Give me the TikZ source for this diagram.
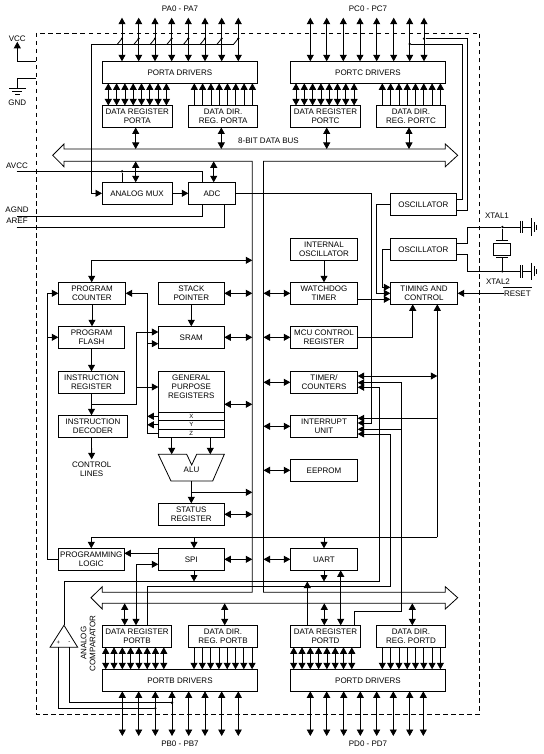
\documentclass[tikz,border=0pt]{standalone}
\usepackage{fontspec}
\setmainfont{Liberation Sans}
\usepackage{tikz}
\usetikzlibrary{arrows.meta}
\newcommand{\lblfont}{\fontsize{8}{9}\selectfont}
\tikzset{
    blk/.style={draw, line width=0.8pt, anchor=north west, minimum width=66pt, minimum height=22pt, inner sep=0pt, outer sep=0pt, align=center, font=\lblfont},
    lbl/.style={inner sep=0pt, outer sep=0pt, align=center, font=\lblfont},
    wire/.style={line width=0.8pt},
    uni/.style={wire, -{Triangle[length=6.5pt,width=7pt]}},
    bi/.style={wire, {Triangle[length=6.5pt,width=7pt]}-{Triangle[length=6.5pt,width=7pt]}},
    jdot/.style={circle, fill=black, inner sep=0pt, minimum size=2.6pt}
}
\begin{document}
\begin{tikzpicture}[x=1pt, y=-1pt]
    \useasboundingbox (0,0) rectangle (543,754);
    % chip outline
    \draw[line width=0.8pt, dash pattern=on 4.5pt off 3.5pt] (36,33) rectangle (479.5,714);

    % rails and pin rows
    \coordinate (railL) at (252.3,0);
    \coordinate (railR) at (263.5,0);
    \coordinate (busT) at (0,149);
    \coordinate (busB) at (0,161.3);
    \coordinate (busLT) at (0,592.3);
    \coordinate (busLB) at (0,603.3);
    \coordinate (pinsT) at (0,17.7);
    \coordinate (pinsB) at (0,736);
    \coordinate (edgeL) at (36,0);

    % data bus
    \draw[wire] (railL |- busB) -- (64,161.3) -- (64,166.7) -- (52.7,155.3) -- (64,144) -- (64,149) -- (445.3,149) -- (445.3,144) -- (457.7,155.3) -- (445.3,166.7) -- (445.3,161.3) -- (263.5,161.3) -- (263.5,592.3) -- (445.3,592.3) -- (445.3,586.7) -- (457.7,597.7) -- (445.3,609) -- (445.3,603.3) -- (102.3,603.3) -- (102.3,609) -- (91,597.7) -- (102.3,586.7) -- (102.3,592.3) -- (252.3,592.3) -- cycle;
    \node[lbl] (buslabel) at (268.5,141) {8-BIT DATA BUS};

    % ports on top
    \node[blk, minimum width=155.7pt] (pa) at (102,61.3) {PORTA DRIVERS};
    \node[blk, minimum width=70.5pt] (dra) at (102,105.5) {DATA REGISTER\\PORTA};
    \node[blk, minimum width=69.2pt] (dda) at (188.5,105.5) {DATA DIR.\\REG. PORTA};
    \node[blk, minimum width=155.4pt] (pc) at (290.3,61.3) {PORTC DRIVERS};
    \node[blk, minimum width=70.4pt] (drc) at (290.3,105.5) {DATA REGISTER\\PORTC};
    \node[blk, minimum width=69.4pt] (ddc) at (376.3,105.5) {DATA DIR.\\REG. PORTC};
    \node[lbl] (palabel) at (180,9) {PA0 - PA7};
    \node[lbl] (pclabel) at (368,9) {PC0 - PC7};

    % ports on bottom
    \node[blk, minimum width=155.4pt] (pb) at (102.3,669.3) {PORTB DRIVERS};
    \node[blk, minimum width=69.4pt] (drb) at (102.3,625.3) {DATA REGISTER\\PORTB};
    \node[blk, minimum width=69.4pt] (ddb) at (188.3,625.3) {DATA DIR.\\REG. PORTB};
    \node[blk, minimum width=155.4pt] (pd) at (290.3,669.3) {PORTD DRIVERS};
    \node[blk, minimum width=70.4pt] (drd) at (290.3,625.3) {DATA REGISTER\\PORTD};
    \node[blk, minimum width=69.4pt] (ddd) at (376.3,625.3) {DATA DIR.\\REG. PORTD};
    \node[lbl] (pblabel) at (180,744) {PB0 - PB7};
    \node[lbl] (pdlabel) at (368,744) {PD0 - PD7};

    % left column
    \node[blk, minimum width=67.4pt] (pctr) at (58.3,282.3) {PROGRAM\\COUNTER};
    \node[blk, minimum width=66.4pt] (flash) at (58.3,326.3) {PROGRAM\\FLASH};
    \node[blk, minimum width=66.4pt] (ir) at (58.3,371.3) {INSTRUCTION\\REGISTER};
    \node[blk, minimum width=69.4pt] (idec) at (58.3,415.3) {INSTRUCTION\\DECODER};
    \node[lbl] (ctl) at (91.7,469.5) {CONTROL\\LINES};
    \coordinate (ctlend) at (91.7,459.3);
    \node[blk] (plog) at (58.3,548.3) {PROGRAMMING\\LOGIC};

    % middle column
    \node[blk] (sp) at (158.3,282.3) {STACK\\POINTER};
    \node[blk] (sram) at (158.3,326.3) {SRAM};
    \node[blk, minimum height=41pt] (gpr) at (158.3,371.3) {};
    \node[lbl] (gprlabel) at (191.3,386.5) {GENERAL\\PURPOSE\\REGISTERS};
    \node[blk, minimum height=8pt, font=\fontsize{6}{6}\selectfont] (gx) at (158.3,412.3) {X};
    \node[blk, minimum height=9pt, font=\fontsize{6}{6}\selectfont] (gy) at (158.3,420.3) {Y};
    \node[blk, minimum height=8pt, font=\fontsize{6}{6}\selectfont] (gz) at (158.3,429.3) {Z};
    \draw[wire] (158.3,454.3) -- (186.7,454.3) -- (191.7,465) -- (196.7,454.3) -- (224.3,454.3) -- (212.7,481) -- (171,481) -- cycle;
    \node[lbl] (alu) at (191.5,470) {ALU};
    \coordinate (aluB) at (191.3,481);
    \node[blk] (stat) at (158.3,503.3) {STATUS\\REGISTER};
    \node[blk] (spi) at (158.3,548.3) {SPI};

    % right column
    \node[blk, minimum width=67.4pt] (iosc) at (290.3,238.3) {INTERNAL\\OSCILLATOR};
    \node[blk, minimum width=67.4pt] (wd) at (290.3,282.3) {WATCHDOG\\TIMER};
    \node[blk, minimum width=67.4pt] (mcu) at (290.3,326.3) {MCU CONTROL\\REGISTER};
    \node[blk, minimum width=67.4pt] (tmr) at (290.3,371.3) {TIMER/\\COUNTERS};
    \node[blk, minimum width=67.4pt] (intu) at (290.3,415.3) {INTERRUPT\\UNIT};
    \node[blk, minimum width=67.4pt] (eep) at (290.3,459.3) {EEPROM};
    \node[blk, minimum width=67.4pt] (uart) at (290.3,548.3) {UART};
    \node[blk] (osca) at (390.3,193.3) {OSCILLATOR};
    \node[blk] (oscb) at (390.3,238.3) {OSCILLATOR};
    \node[blk, minimum width=67.4pt] (tc) at (390.3,282.3) {TIMING AND\\CONTROL};

    % analog part
    \node[blk, minimum width=70pt] (mux) at (102,182.3) {ANALOG MUX};
    \node[blk, minimum width=47.4pt] (adc) at (188.3,182.3) {ADC};
    \node[lbl] (avcc) at (17,166) {AVCC};
    \node[lbl] (agnd) at (17,210) {AGND};
    \node[lbl] (aref) at (17,221) {AREF};
    \coordinate (avccS) at (16.7,171.3);
    \coordinate (agndS) at (16.7,216.3);
    \coordinate (arefS) at (16.7,227.3);
    \node[jdot] (avccJ) at (122,171.3) {};
    \draw[wire] (avccS) -- (202.7,171.3) -- (202.7,0 |- adc.north);
    \draw[wire] (avccJ) -- (122,0 |- mux.north);
    \draw[wire] (agndS) -- (202.7,216.3) -- (202.7,0 |- adc.south);
    \draw[wire] (arefS) -- (224.3,227.3) -- (224.3,0 |- adc.south);
    \draw[uni] (mux.east) -- (adc.west);
    \draw[bi] (135.7,0 |- busB) -- (135.7,0 |- mux.north);
    \draw[bi] (213.7,0 |- busB) -- (213.7,0 |- adc.north);

    % supply
    \node[lbl] (vcc) at (17.3,39) {VCC};
    \node[lbl] (gnd) at (17.3,103) {GND};
    \draw[uni] (edgeL |- 0,61.5) -- (17.3,61.5) -- (vcc.south);
    \draw[wire] (edgeL |- 0,78.3) -- (17.3,78.3) -- (17.3,88.7);
    \draw[wire] (9.3,88.7) -- (25.7,88.7) (12,91.7) -- (22,91.7) (15,94.7) -- (20,94.7);

    % pin arrows
    \foreach \x in {122,138.7,155,171.7,188.3,205,221.7,238.3} {
        \draw[bi] (\x,0 |- pinsT) -- (\x,0 |- pa.north);
        \draw[wire] (\x,38.5) -- (\x-4.7,44.3);
        \fill (\x,38.5) circle (1.2pt);
    }
    \foreach \x in {310.3,326.7,343.3,360,376.7,393.7,409.7,424}
        \draw[bi] (\x,0 |- pinsT) -- (\x,0 |- pc.north);
    \foreach \x in {122.3,138.7,155.3,172,188.7,205,221.7,238.3}
        \draw[bi] (\x,0 |- pb.south) -- (\x,0 |- pinsB);
    \foreach \x in {310.3,326.7,343.7,360.3,376.7,393.3,409.7,423.3}
        \draw[bi] (\x,0 |- pd.south) -- (\x,0 |- pinsB);

    % register to driver arrows
    \foreach \x in {108.3,116.6,...,167}
        \draw[bi] (\x,0 |- dra.north) -- (\x,0 |- pa.south);
    \foreach \x in {194.3,202.6,...,253}
        \draw[uni] (\x,0 |- dda.north) -- (\x,0 |- pa.south);
    \foreach \x in {296,304.3,...,355}
        \draw[bi] (\x,0 |- drc.north) -- (\x,0 |- pc.south);
    \foreach \x in {382.3,390.6,...,441}
        \draw[uni] (\x,0 |- ddc.north) -- (\x,0 |- pc.south);
    \foreach \x in {105.7,114,...,164}
        \draw[bi] (\x,0 |- drb.south) -- (\x,0 |- pb.north);
    \foreach \x in {194,202.3,...,253}
        \draw[uni] (\x,0 |- ddb.south) -- (\x,0 |- pb.north);
    \foreach \x in {293.7,302,...,352}
        \draw[bi] (\x,0 |- drd.south) -- (\x,0 |- pd.north);
    \foreach \x in {382.3,390.6,...,441}
        \draw[uni] (\x,0 |- ddd.south) -- (\x,0 |- pd.north);

    % registers to bus
    \draw[bi] (135.7,0 |- dra.south) -- (135.7,0 |- busT);
    \draw[bi] (221.3,0 |- dda.south) -- (221.3,0 |- busT);
    \draw[bi] (326.7,0 |- drc.south) -- (326.7,0 |- busT);
    \draw[bi] (409,0 |- ddc.south) -- (409,0 |- busT);
    \draw[bi] (124.7,0 |- busLB) -- (124.7,0 |- drb.north);
    \draw[bi] (224.7,0 |- busLB) -- (224.7,0 |- ddb.north);
    \draw[bi] (324.3,0 |- busLB) -- (324.3,0 |- drd.north);
    \draw[bi] (412.3,0 |- busLB) -- (412.3,0 |- ddd.north);

    % analog select
    \coordinate (selA) at (233.6,44.3);
    \draw[uni] (selA) -- (91.3,44.3) |- (mux.west);

    % oscillators
    \node[jdot] (pc6J) at (409.7,44) {};
    \node[jdot] (pc7J) at (424,38.7) {};
    \draw[wire] (osca.east |- 0,199.3) -- (462.7,199.3) -- (462.7,44) -- (pc6J);
    \draw[wire] (osca.east |- 0,210) -- (467.3,210) -- (467.3,38.7) -- (pc7J);
    \draw[uni] (osca.west) -- (376.7,204.3) -- (376.7,293.3) -- (tc.west);
    \draw[uni] (oscb.west) -- (382.3,249.3) -- (382.3,287.3) -- (tc.west |- 0,287.3);
    \draw[uni] (wd.east |- 0,299.3) -- (tc.west |- 0,299.3);
    \draw[uni] (iosc.south) -- (wd.north);
    \draw[uni] (mcu.east) -- (412.7,337.3) -- (412.7,0 |- tc.south);

    % crystal
    \node[lbl] (xtala) at (497,216) {XTAL1};
    \node[lbl] (xtalb) at (498,282) {XTAL2};
    \node[jdot] (xa) at (502.3,227) {};
    \node[jdot] (xb) at (502.3,271.3) {};
    \draw[wire] (oscb.east |- 0,243.3) -- (467.7,243.3) -- (467.7,227) -- (xa);
    \draw[wire] (oscb.east |- 0,254) -- (467.7,254) -- (467.7,271.3) -- (xb);
    \draw[wire] (xa) -- (502.3,240);
    \draw[wire] (xb) -- (502.3,257.3);
    \draw[wire] (496,240) -- (508.3,240) (496,257.3) -- (508.3,257.3);
    \draw[wire] (493.3,243.3) rectangle (510.7,255);
    \foreach \y in {227,271.3} {
        \draw[wire] (502.3,\y) -- (520,\y) (520,\y-6.3) -- (520,\y+6.3) (522.7,\y-6.3) -- (522.7,\y+6.3) (522.7,\y) -- (531.7,\y);
        \draw[wire] (531.7,\y-8.7) -- (531.7,\y+8.7) (534,\y-5) -- (534,\y+5) (536.3,\y-2.5) -- (536.3,\y+2.5);
    }

    % reset
    \node[lbl, anchor=west] (rst) at (504,293.3) {RESET};
    \draw[wire] (503.3,287) -- (531.7,287);
    \draw[uni] (rst.west) -- (rst.west -| tc.east);

    % left column wiring
    \draw[bi] (railL |- 0,260.3) -- (91.7,260.3) -- (91.7,0 |- pctr.north);
    \draw[uni] (pctr.south) -- (pctr.south |- flash.north);
    \draw[uni] (flash.south) -- (flash.south |- ir.north);
    \draw[uni] (ir.south) -- (ir.south |- idec.north);
    \draw[uni] (ir.south |- idec.south) -- (ctlend);
    \coordinate (irJ) at (91.7,404.3);
    \draw[uni] (irJ) -- (136.7,404.3) -- (136.7,332) -- (sram.west |- 0,332);
    \draw[uni] (136.7,387) -- (gpr.west |- 0,387);
    \draw[uni] (gz.west) -- (147.3,433.3) -- (147.3,293.3) -- (pctr.east);
    \draw[uni] (147.3,343.7) -- (sram.west |- 0,343.7);
    \draw[uni] (gx.west) -- (147.3,0 |- gx.west);
    \draw[uni] (gy.west) -- (147.3,0 |- gy.west);
    \draw[uni] (plog.west) -- (47.3,559.3) -- (47.3,293.3) -- (pctr.west);
    \draw[uni] (47.3,337.3) -- (flash.west);

    % middle column wiring
    \draw[bi] (sp.east) -- (sp.east -| railL);
    \draw[bi] (sram.east) -- (sram.east -| railL);
    \draw[bi] (gpr.east |- 0,404.3) -- (railL |- 0,404.3);
    \draw[bi] (stat.east) -- (stat.east -| railL);
    \draw[bi] (spi.east) -- (spi.east -| railL);
    \draw[uni] (sp.south) -- (sram.north);
    \draw[uni] (171.7,0 |- gz.south) -- (171.7,454.3);
    \draw[uni] (210.3,0 |- gz.south) -- (210.3,454.3);
    \draw[uni] (aluB) -- (stat.north);
    \draw[uni] (191.3,492.3) -- (railL |- 0,492.3);

    % right column wiring
    \foreach \b in {wd,mcu,tmr,intu,eep,uart}
        \draw[bi] (railR |- \b.west) -- (\b.west);

    % control line
    \draw[uni] (437.3,537.3) -- (437.3,0 |- tc.south);
    \draw[uni] (437.3,537.3) -- (91.3,537.3) -- (plog.north);
    \draw[uni] (194,537.3) -- (194,0 |- spi.north);
    \draw[uni] (uart.north |- 0,537.3) -- (uart.north);
    \draw[bi] (tmr.east |- 0,376) -- (437.3,376);
    \draw[uni] (437.3,418.3) -- (intu.east |- 0,418.3);

    % comparator
    \coordinate (cmpT) at (64,625.3);
    \draw[wire] (cmpT) -- (77.7,647.3) -- (50,647.3) -- cycle;
    \node[lbl, font=\fontsize{6}{6}\selectfont] (cmpP) at (58.3,642.5) {+};
    \node[lbl, font=\fontsize{6}{6}\selectfont] (cmpM) at (69.3,642.5) {-};
    \node[lbl, rotate=90] (cmplabel) at (88,643.3) {ANALOG\\COMPARATOR};
    \node[jdot] (pb2J) at (155.3,708.3) {};
    \node[jdot] (pb3J) at (172,702.7) {};
    \draw[wire] (58.3,647.3) -- (58.3,708.3) -- (pb2J);
    \draw[wire] (69.3,647.3) -- (69.3,702.7) -- (pb3J);

    % long runs to timers and interrupts
    \draw[uni] (cmpT) -- (64,581.5) -- (379.3,581.5) -- (379.3,387.3) -- (tmr.east |- 0,387.3);
    \draw[uni] (147.3,0 |- drb.north) -- (147.3,586) -- (390.3,586) -- (390.3,434) -- (intu.east |- 0,434);
    \draw[uni] (354.3,0 |- drd.north) -- (354.3,611.3) -- (401.7,611.3) -- (401.7,382.7) -- (tmr.east |- 0,382.7);
    \draw[uni] (401.7,429.3) -- (intu.east |- 0,429.3);
    \draw[uni] (adc.east) -- (371.3,193.3) -- (371.3,423) -- (intu.east |- 0,423);

    % spi and uart to ports
    \draw[uni] (spi.west |- 0,553.3) -- (plog.east |- 0,553.3);
    \draw[bi] (136,0 |- drb.north) -- (136,564.3) -- (spi.west |- 0,564.3);
    \draw[uni] (194,0 |- spi.south) -- (194,581.5);
    \draw[uni] (uart.south) -- (uart.south |- 0,581.5);
    \draw[uni] (307.3,0 |- drd.north) -- (307.3,581.5);
    \draw[bi] (340.7,0 |- uart.south) -- (340.7,0 |- drd.north);
\end{tikzpicture}
\end{document}
